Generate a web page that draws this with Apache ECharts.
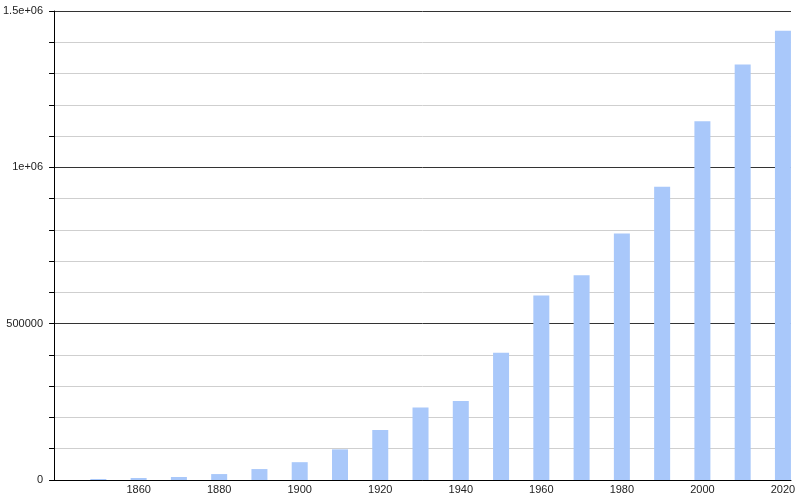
<!DOCTYPE html>
<html>
<head>
<meta charset="utf-8">
<script src="https://cdn.jsdelivr.net/npm/echarts@6/dist/echarts.min.js"></script>
<style>html,body{margin:0;padding:0;background:#fff}#c{width:800px;height:500px}</style>
</head>
<body>
<div id="c"></div>
<script>
var years = [1850,1860,1870,1880,1890,1900,1910,1920,1930,1940,1950,1960,1970,1980,1990,2000,2010,2020];
var population = [3200,6400,9600,19000,35000,57000,98000,160000,232000,253000,407000,590000,655000,788000,938000,1147000,1329000,1437000];
var xTickLabels = [1860,1880,1900,1920,1940,1960,1980,2000,2020];
var yLabelMap = {0:'0',500000:'500000',1000000:'1e+06',1500000:'1.5e+06'};

var chart = echarts.init(document.getElementById('c'), null, {renderer:'canvas'});
chart.setOption({
  animation:false,
  backgroundColor:'#fff',
  grid:{left:53,right:9,top:11,bottom:20,containLabel:false},
  xAxis:{
    type:'value', min:1839, max:2022,
    axisLine:{show:true,lineStyle:{color:'#000',width:1}},
    axisTick:{show:false},
    splitLine:{show:false},
    axisLabel:{customValues:xTickLabels,margin:4,fontSize:11,color:'#222',fontFamily:'Liberation Sans, Arial, sans-serif',
      formatter:function(v){return String(v);}}
  },
  yAxis:{
    type:'value', min:0, max:1500000, interval:100000,
    axisLine:{show:true,lineStyle:{color:'#000',width:1}},
    axisTick:{show:true,length:5,lineStyle:{color:'#000'}},
    splitLine:{show:true,lineStyle:{color:['#333','#cfcfcf','#cfcfcf','#cfcfcf','#cfcfcf'],width:1}},
    axisLabel:{margin:11,fontSize:11,color:'#222',fontFamily:'Liberation Sans, Arial, sans-serif',
      formatter:function(v){return yLabelMap.hasOwnProperty(v)?yLabelMap[v]:'';}}
  },
  series:[{
    type:'bar',
    barWidth:16,
    itemStyle:{color:'#a9c8fa'},
    data:years.map(function(y,i){return [y,population[i]];})
  }]
});
</script>
</body>
</html>
